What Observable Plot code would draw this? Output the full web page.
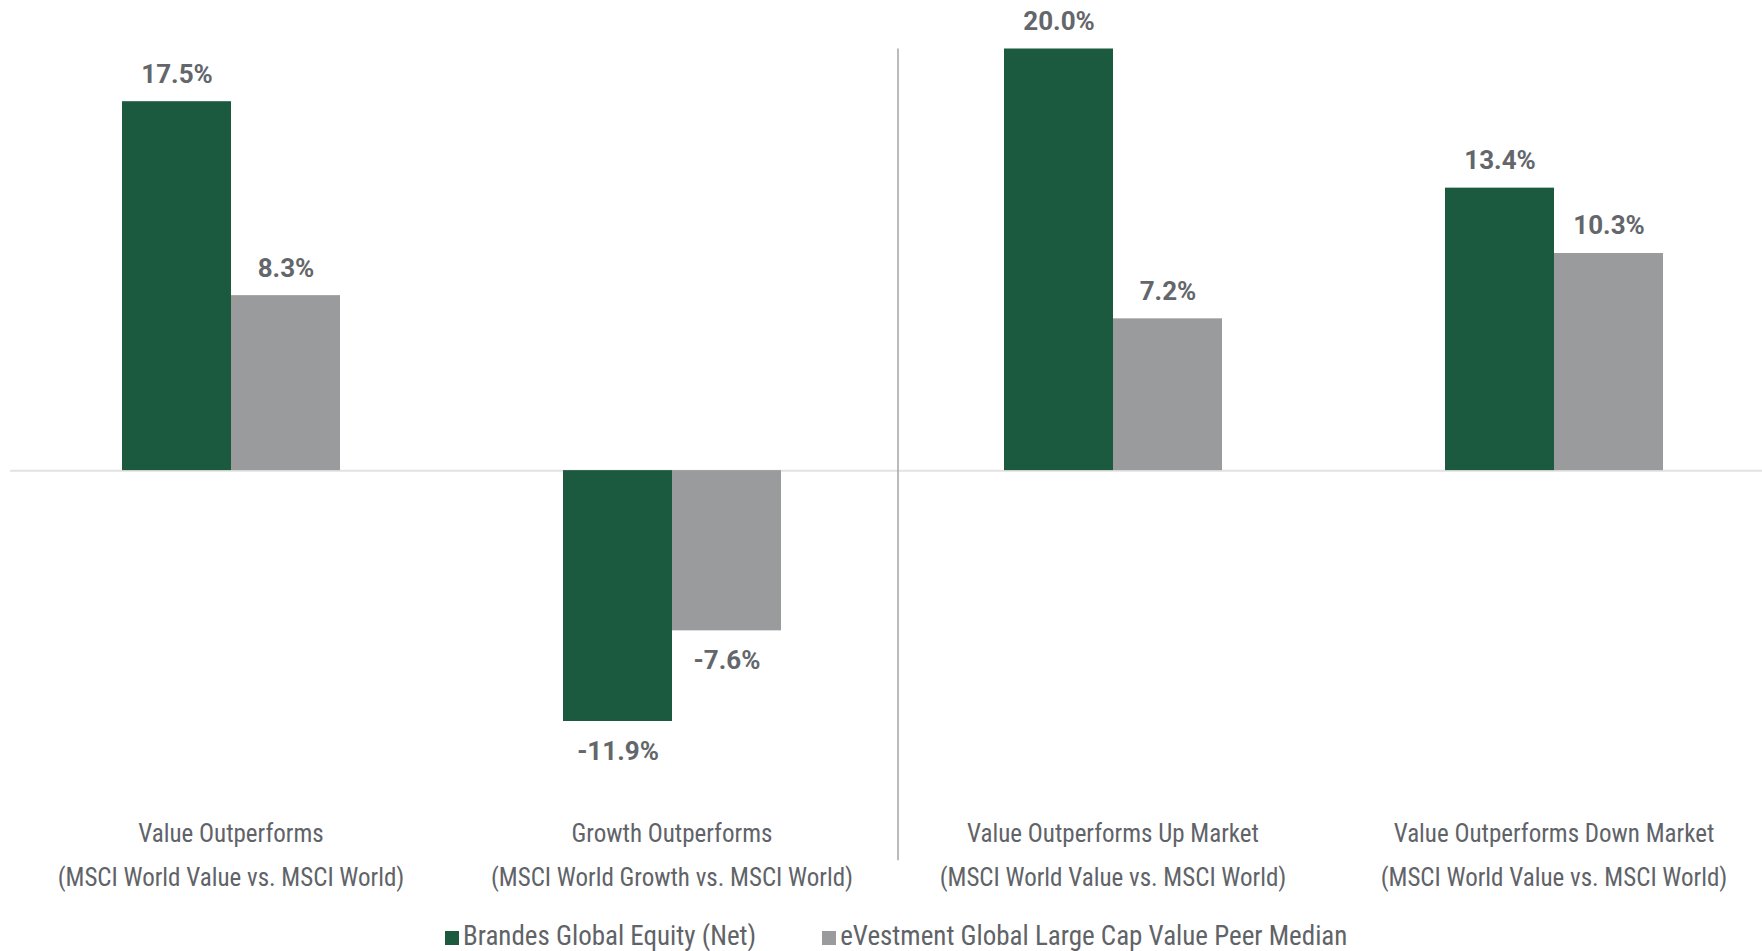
<!DOCTYPE html>
<html><head><meta charset="utf-8">
<script src="https://cdn.jsdelivr.net/npm/d3@7"></script>
<script src="https://cdn.jsdelivr.net/npm/@observablehq/plot@0.6"></script>
<style>
html,body{margin:0;padding:0;background:#fff;overflow:hidden;width:1762px;height:951px;}
#chart svg{display:block}
.legend{display:flex;align-items:center;height:30px;padding-left:445px;font-family:"Roboto Condensed","Liberation Sans Narrow","Arial Narrow","DejaVu Sans Condensed",sans-serif;font-size:27px;color:#606368;white-space:nowrap}
.item{display:flex;align-items:center;}
.sw{display:inline-block;width:14px;height:14px;margin-right:4px;margin-top:4px}
</style></head><body>
<div id="chart"></div>
<div class="legend" id="legend"></div>
<script>
const categories = ["Value Outperforms", "Growth Outperforms", "Value Outperforms Up Market", "Value Outperforms Down Market"];
const subtitles = ["(MSCI World Value vs. MSCI World)", "(MSCI World Growth vs. MSCI World)", "(MSCI World Value vs. MSCI World)", "(MSCI World Value vs. MSCI World)"];
const series = ["Brandes Global Equity (Net)", "eVestment Global Large Cap Value Peer Median"];
const brandes = [17.5, -11.9, 20.0, 13.4];
const peer = [8.3, -7.6, 7.2, 10.3];
const colors = ["#1b5a3e", "#9a9b9c"];

const rows = categories.flatMap((c, i) => [
  {cat: c, series: series[0], value: brandes[i]},
  {cat: c, series: series[1], value: peer[i]}
]);
const fmt = d => d.value.toFixed(1) + "%";
const condensed = '"Roboto Condensed","Liberation Sans Narrow","Arial Narrow","DejaVu Sans Condensed",sans-serif';

const chart = Plot.plot({
  width: 1762,
  height: 921,
  marginLeft: 9,
  marginRight: -12,
  marginTop: 48.5,
  marginBottom: 197.9,
  fx: {domain: categories, padding: 0, label: null},
  x: {domain: series, paddingInner: 0, paddingOuter: 1.005, axis: null},
  y: {domain: [-12, 20], axis: null},
  color: {domain: series, range: colors},
  style: {background: "white", fontFamily: "Roboto, sans-serif"},
  marks: [
    Plot.ruleY([0], {stroke: "#e2e2e2", strokeWidth: 2}),
    Plot.barY(rows, {fx: "cat", x: "series", y: "value", fill: "series"}),
    Plot.text(rows.filter(d => d.value >= 0), {fx: "cat", x: "series", y: "value", text: fmt, lineAnchor: "bottom", dy: -19, fontSize: 26, fontWeight: "bold", fill: "#63666a"}),
    Plot.text(rows.filter(d => d.value < 0), {fx: "cat", x: "series", y: "value", text: fmt, lineAnchor: "top", dy: 20, fontSize: 26, fontWeight: "bold", fill: "#63666a"}),
    Plot.ruleX([{cat: categories[2]}], {fx: "cat", x: null, dx: -215, y1: 20, y2: -18.5, stroke: "#a4a4a4", strokeWidth: 1.5}),
    Plot.axisFx({anchor: "bottom", tickSize: 0, tickPadding: 88, fontSize: 25, lineHeight: 1.74, fill: "#606368", fontFamily: condensed, tickFormat: d => d + "\n" + subtitles[categories.indexOf(d)], label: null})
  ]
});
document.getElementById("chart").appendChild(chart);

const legend = document.getElementById("legend");
series.forEach((s, i) => {
  const item = document.createElement("span");
  item.className = "item";
  item.style.marginRight = i === 0 ? "66px" : "0";
  const sw = document.createElement("span");
  sw.className = "sw";
  sw.style.background = colors[i];
  item.appendChild(sw);
  item.appendChild(document.createTextNode(s));
  legend.appendChild(item);
});
</script>
</body></html>
